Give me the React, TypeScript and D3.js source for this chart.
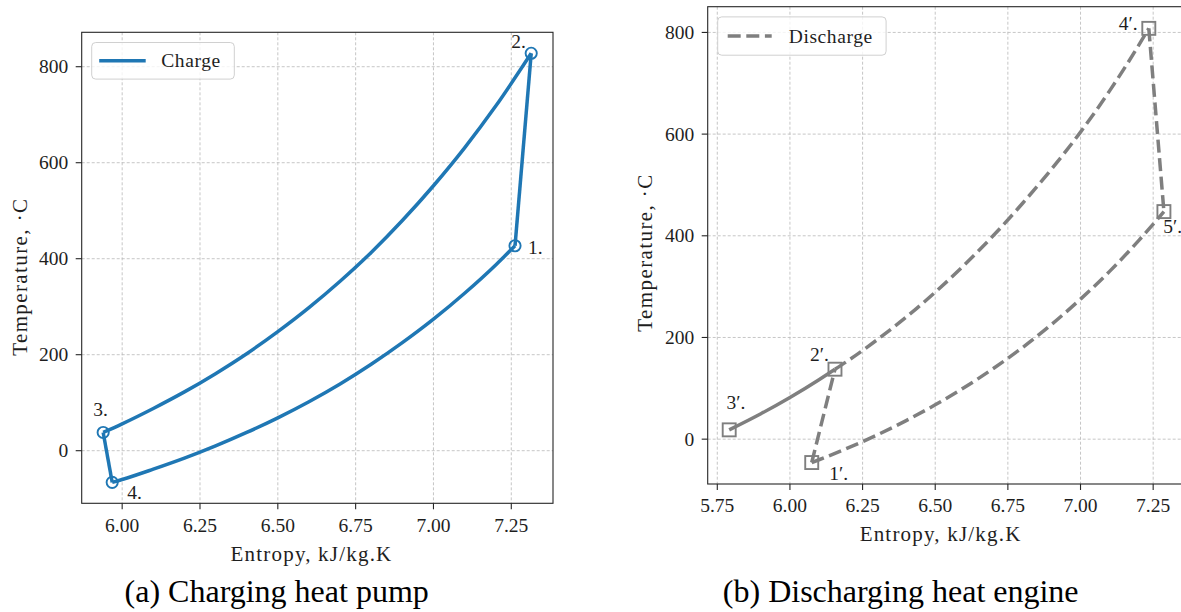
import React from "react";
import * as d3 from "d3";

// ---------------- data ----------------
// Charging heat pump (entropy kJ/kg.K, temperature C)
const chargeStateLabels = ["1.", "2.", "3.", "4."];
const chargeStateS = [7.262, 7.314, 5.939, 5.968];
const chargeStateT = [427, 828, 38, -66];

// heat rejection 3 -> 2 (upper curve)
const chargeHotS = [5.939, 6.0, 6.1, 6.2, 6.3, 6.4, 6.5, 6.6, 6.7, 6.8, 6.9, 7.0, 7.1, 7.2, 7.314];
const chargeHotT = [38, 56, 88, 122.5, 160.5, 202, 248, 298, 353, 413, 479.5, 552, 631, 718, 828];

// heat addition 4 -> 1 (lower curve)
const chargeColdS = [5.968, 6.0, 6.1, 6.2, 6.3, 6.4, 6.5, 6.6, 6.7, 6.8, 6.9, 7.0, 7.1, 7.2, 7.262];
const chargeColdT = [-66, -60, -38.5, -15.5, 10, 38, 68.5, 102, 139, 180, 225, 274, 328, 387, 427];

// Discharging heat engine
const dischargeStateLabels = ["1\u2032.", "2\u2032.", "3\u2032.", "4\u2032.", "5\u2032."];
const dischargeStateS = [6.075, 6.155, 5.791, 7.235, 7.287];
const dischargeStateT = [-46, 137.6, 18.3, 808, 447.6];

// heating 2' -> 4'
const dischargeHotS = [6.155, 6.2, 6.3, 6.4, 6.5, 6.6, 6.7, 6.8, 6.9, 7.0, 7.1, 7.2, 7.235];
const dischargeHotT = [137.6, 154.5, 195.5, 240, 289, 342.5, 400.5, 463.5, 531, 604, 685, 774.5, 808];

// cooling 1' <- 5'
const dischargeColdS = [6.075, 6.1, 6.2, 6.3, 6.4, 6.5, 6.6, 6.7, 6.8, 6.9, 7.0, 7.1, 7.2, 7.287];
const dischargeColdT = [-46, -40.5, -17.3, 8.3, 36.5, 67.5, 101.5, 139, 180, 225.5, 275.5, 330, 390.5, 447.6];

// solid segment 3' -> 2'
const dischargeAmbS = [5.791, 5.9, 6.0, 6.1, 6.155];
const dischargeAmbT = [18.3, 50, 82, 117, 137.6];

const leftXTicks = [6.0, 6.25, 6.5, 6.75, 7.0, 7.25];
const rightXTicks = [5.75, 6.0, 6.25, 6.5, 6.75, 7.0, 7.25];
const yTicks = [0, 200, 400, 600, 800];

const xLabel = "Entropy, kJ/kg.K";
const yLabel = "Temperature, \u00b7C";
const captions = ["(a) Charging heat pump", "(b) Discharging heat engine"];
const legendNames = ["Charge", "Discharge"];

// ---------------- styling / layout ----------------
const W = 1181;
const H = 612;
const FONT = "Liberation Serif, Times New Roman, serif";
const BLUE = "#1f77b4";
const GRAY = "#7f7f7f";
const TXT = "#1e1e1e";
const LW = 3.5;

type PanelCfg = {
  left: number; right: number; top: number; bottom: number;
  xDomain: [number, number]; yDomain: [number, number];
  xTicks: number[];
  xLabelCx: number; xLabelBase: number;
  yLabelBase: number; yLabelCy: number;
  legendW: number; legendH: number;
  captionCx: number;
};

const leftCfg: PanelCfg = {
  left: 81.7, right: 553, top: 32.3, bottom: 503.3,
  xDomain: [5.87, 7.384], yDomain: [-109.6, 871.7],
  xTicks: leftXTicks,
  xLabelCx: 311.5, xLabelBase: 560.7,
  yLabelBase: 26.7, yLabelCy: 276.7,
  legendW: 142.6, legendH: 36.6,
  captionCx: 276.7,
};

const rightCfg: PanelCfg = {
  left: 707.7, right: 1186, top: 6.7, bottom: 484,
  xDomain: [5.717, 7.363], yDomain: [-88.2, 850.6],
  xTicks: rightXTicks,
  xLabelCx: 940.6, xLabelBase: 541.4,
  yLabelBase: 651.7, yLabelCy: 252.5,
  legendW: 168.4, legendH: 38.3,
  captionCx: 900.7,
};

// label offsets (px) from each state point
const chargeLabelOff = [[13, 8], [-20, -5], [-10, -16], [15, 17]];
const dischargeLabelOff = [[17.6, 17.3], [-25, -8.6], [-2.6, -20.7], [-30, 1.7], [-0.7, 21.3]];

function zip(s: number[], t: number[]): [number, number][] {
  return s.map((v, i) => [v, t[i]]);
}

function Axes({ cfg, children, legend }: { cfg: PanelCfg; children: (x: any, y: any) => React.ReactNode; legend: React.ReactNode }) {
  const x = d3.scaleLinear().domain(cfg.xDomain).range([cfg.left, cfg.right]);
  const y = d3.scaleLinear().domain(cfg.yDomain).range([cfg.bottom, cfg.top]);
  const fmt = d3.format(".2f");
  return (
    <g>
      {/* grid */}
      <g stroke="#b8b8b8" strokeWidth={0.8} strokeDasharray="3,2" fill="none">
        {cfg.xTicks.map((t) => (
          <line key={"gx" + t} x1={x(t)} x2={x(t)} y1={cfg.top} y2={cfg.bottom} />
        ))}
        {yTicks.map((t) => (
          <line key={"gy" + t} x1={cfg.left} x2={cfg.right} y1={y(t)} y2={y(t)} />
        ))}
      </g>
      {children(x, y)}
      {/* spines */}
      <rect x={cfg.left} y={cfg.top} width={cfg.right - cfg.left} height={cfg.bottom - cfg.top}
        fill="none" stroke="#262626" strokeWidth={1.1} />
      {/* ticks */}
      <g fontFamily={FONT} fontSize={19.5} fill={TXT}>
        {cfg.xTicks.map((t) => (
          <g key={"tx" + t}>
            <line x1={x(t)} x2={x(t)} y1={cfg.bottom} y2={cfg.bottom + 6} stroke="#262626" strokeWidth={1.1} />
            <text x={x(t)} y={cfg.bottom + 28.4} textAnchor="middle">{fmt(t)}</text>
          </g>
        ))}
        {yTicks.map((t) => (
          <g key={"ty" + t}>
            <line x1={cfg.left - 6} x2={cfg.left} y1={y(t)} y2={y(t)} stroke="#262626" strokeWidth={1.1} />
            <text x={cfg.left - 13.4} y={y(t)} dy="0.34em" textAnchor="end">{t}</text>
          </g>
        ))}
      </g>
      {/* axis labels */}
      <text x={cfg.xLabelCx} y={cfg.xLabelBase} textAnchor="middle" fontFamily={FONT} fontSize={21}
        letterSpacing={1.2} fill={TXT}>{xLabel}</text>
      <text transform={`translate(${cfg.yLabelBase},${cfg.yLabelCy}) rotate(-90)`} textAnchor="middle"
        fontFamily={FONT} fontSize={21} letterSpacing={1.4} fill={TXT}>{yLabel}</text>
      {/* legend */}
      <g transform={`translate(${cfg.left + 10},${cfg.top + 10.2})`}>
        <rect x={0} y={0} width={cfg.legendW} height={cfg.legendH} rx={4} ry={4}
          fill="white" fillOpacity={0.8} stroke="#d0d0d0" strokeWidth={1} />
        {legend}
      </g>
    </g>
  );
}

export default function App() {
  const lineCurve = (x: any, y: any) =>
    d3.line<[number, number]>().x((d) => x(d[0])).y((d) => y(d[1])).curve(d3.curveMonotoneX);
  const lineStraight = (x: any, y: any) =>
    d3.line<[number, number]>().x((d) => x(d[0])).y((d) => y(d[1]));

  const cs = zip(chargeStateS, chargeStateT);
  const ds = zip(dischargeStateS, dischargeStateT);
  const dash = "13,5.6";

  return (
    <svg width={W} height={H} viewBox={`0 0 ${W} ${H}`}
      style={{ position: "absolute", left: 0, top: 0, background: "white" }}>
      <rect x={0} y={0} width={W} height={H} fill="white" />
      <Axes cfg={leftCfg}
        legend={
          <g>
            <line x1={7.5} x2={54} y1={leftCfg.legendH / 2} y2={leftCfg.legendH / 2} stroke={BLUE} strokeWidth={LW} />
            <text x={69.5} y={leftCfg.legendH / 2} dy="0.34em" fontFamily={FONT} fontSize={19.5}
              letterSpacing={0.6} fill={TXT}>{legendNames[0]}</text>
          </g>
        }>
        {(x, y) => {
          const straight = lineStraight(x, y);
          const curve = lineCurve(x, y);
          return (
            <g>
              <g fill="none" stroke={BLUE} strokeWidth={LW} strokeLinejoin="round" strokeLinecap="butt">
                <path d={straight([cs[0], cs[1]]) || ""} />
                <path d={curve(zip(chargeHotS, chargeHotT)) || ""} />
                <path d={straight([cs[2], cs[3]]) || ""} />
                <path d={curve(zip(chargeColdS, chargeColdT)) || ""} />
              </g>
              {cs.map((p, i) => (
                <circle key={"c" + i} cx={x(p[0])} cy={y(p[1])} r={5.6} fill="none" stroke={BLUE} strokeWidth={1.9} />
              ))}
              {cs.map((p, i) => (
                <text key={"l" + i} x={x(p[0]) + chargeLabelOff[i][0]} y={y(p[1]) + chargeLabelOff[i][1]}
                  fontFamily={FONT} fontSize={19.5} fill={TXT}>{chargeStateLabels[i]}</text>
              ))}
            </g>
          );
        }}
      </Axes>
      <Axes cfg={rightCfg}
        legend={
          <g>
            <line x1={10} x2={54} y1={rightCfg.legendH / 2} y2={rightCfg.legendH / 2} stroke={GRAY} strokeWidth={LW}
              strokeDasharray={dash} />
            <text x={71} y={rightCfg.legendH / 2} dy="0.34em" fontFamily={FONT} fontSize={19.5}
              letterSpacing={0.6} fill={TXT}>{legendNames[1]}</text>
          </g>
        }>
        {(x, y) => {
          const straight = lineStraight(x, y);
          const curve = lineCurve(x, y);
          return (
            <g>
              <g fill="none" stroke={GRAY} strokeWidth={LW} strokeLinejoin="round">
                <path d={curve(zip(dischargeAmbS, dischargeAmbT)) || ""} />
                <g strokeDasharray={dash}>
                  <path d={straight([ds[0], ds[1]]) || ""} />
                  <path d={curve(zip(dischargeHotS, dischargeHotT)) || ""} />
                  <path d={straight([ds[3], ds[4]]) || ""} />
                  <path d={curve(zip(dischargeColdS, dischargeColdT)) || ""} />
                </g>
              </g>
              {ds.map((p, i) => (
                <rect key={"s" + i} x={x(p[0]) - 6.5} y={y(p[1]) - 6.5} width={13} height={13}
                  fill="none" stroke={GRAY} strokeWidth={1.9} />
              ))}
              {ds.map((p, i) => (
                <text key={"l" + i} x={x(p[0]) + dischargeLabelOff[i][0]} y={y(p[1]) + dischargeLabelOff[i][1]}
                  fontFamily={FONT} fontSize={19.5} fill={TXT}>{dischargeStateLabels[i]}</text>
              ))}
            </g>
          );
        }}
      </Axes>
      <text x={leftCfg.captionCx} y={602} textAnchor="middle" fontFamily={FONT} fontSize={32} fill="#000">{captions[0]}</text>
      <text x={rightCfg.captionCx} y={602} textAnchor="middle" fontFamily={FONT} fontSize={32} fill="#000">{captions[1]}</text>
    </svg>
  );
}
